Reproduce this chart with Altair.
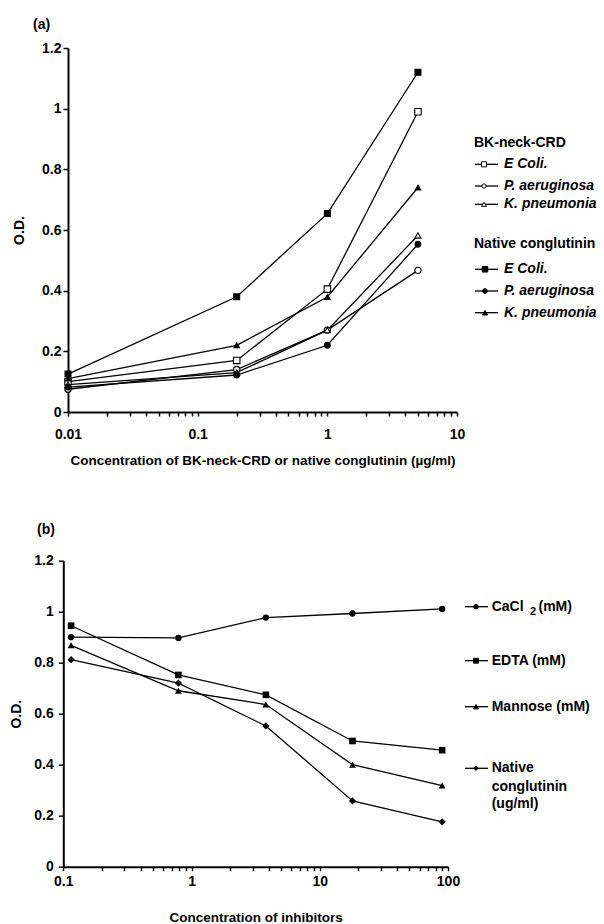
import altair as alt
import pandas as pd

FONT = "Liberation Sans"

# ---------------- panel (a) data ----------------
conc_a = [0.01, 0.2, 1, 5]
series_a = ["BK E Coli.", "BK P. aeruginosa", "BK K. pneumonia",
            "Native E Coli.", "Native P. aeruginosa", "Native K. pneumonia"]
od_bk_ecoli = [0.10, 0.17, 0.405, 0.99]
od_bk_paer = [0.075, 0.14, 0.27, 0.467]
od_bk_kpn = [0.09, 0.13, 0.27, 0.582]
od_nat_ecoli = [0.125, 0.38, 0.654, 1.12]
od_nat_paer = [0.082, 0.122, 0.22, 0.553]
od_nat_kpn = [0.11, 0.22, 0.379, 0.74]
decades_a = [0.01, 0.1, 1, 10]
yticks_a = [0, 0.2, 0.4, 0.6, 0.8, 1, 1.2]
legend_a_groups = ["BK-neck-CRD", "Native conglutinin"]
legend_a_labels = ["E Coli.", "P. aeruginosa", "K. pneumonia"]

# ---------------- panel (b) data ----------------
conc_b = [0.115, 0.79, 3.8, 18, 90]
series_b = ["CaCl2", "EDTA", "Mannose", "Native conglutinin"]
od_cacl2 = [0.90, 0.897, 0.977, 0.993, 1.011]
od_edta = [0.945, 0.752, 0.674, 0.493, 0.457]
od_mannose = [0.868, 0.69, 0.636, 0.40, 0.318]
od_native = [0.812, 0.72, 0.552, 0.258, 0.176]
decades_b = [0.1, 1, 10, 100]
yticks_b = [0, 0.1, 0.2, 0.3, 0.4, 0.5, 0.6, 0.7, 0.8, 0.9, 1, 1.1, 1.2]
ylabels_b = [0, 0.2, 0.4, 0.6, 0.8, 1, 1.2]

# ---------------- styles ----------------
shape_a = ["square", "circle", "triangle-up", "square", "circle", "triangle-up"]
fill_a = ["white", "white", "white", "black", "black", "black"]
size_a = [42, 30, 40, 48, 40, 46]
shape_b = ["circle", "square", "triangle-up", "diamond"]
size_b = [40, 52, 46, 34]

df_a = pd.DataFrame([
    {"conc": c, "od": v, "series": s}
    for s, vals in zip(series_a, [od_bk_ecoli, od_bk_paer, od_bk_kpn,
                                  od_nat_ecoli, od_nat_paer, od_nat_kpn])
    for c, v in zip(conc_a, vals)
])
df_b = pd.DataFrame([
    {"conc_b": c, "od_b": v, "inhibitor": s}
    for s, vals in zip(series_b, [od_cacl2, od_edta, od_mannose, od_native])
    for c, v in zip(conc_b, vals)
])


def log_ticks(decades):
    vals = set()
    for d in decades[:-1]:
        for m in range(1, 10):
            vals.add(round(m * d, 6))
    vals.add(decades[-1])
    return sorted(vals)


def label_expr(shown):
    arr = ",".join(str(v) for v in shown)
    return f"indexof([{arr}], datum.value) >= 0 ? format(datum.value, '~g') : ''"


def txt(label, x, y, size=14, italic=False, align="left"):
    return alt.Chart(alt.Data(values=[{"t": label}])).mark_text(
        align=align, baseline="middle", font=FONT, fontSize=size,
        fontWeight="bold", fontStyle="italic" if italic else "normal", color="black"
    ).encode(x=alt.value(x), y=alt.value(y), text="t:N")


def sym(x0, x1, xm, y, shape, fill, size):
    base = alt.Chart(alt.Data(values=[{"k": 1}]))
    rule = base.mark_rule(color="black", strokeWidth=1.3).encode(
        x=alt.value(x0), x2=alt.value(x1), y=alt.value(y))
    pt = base.mark_point(shape=shape, filled=True, fill=fill, stroke="black",
                         strokeWidth=1, size=size, opacity=1).encode(
        x=alt.value(xm), y=alt.value(y))
    return [rule, pt]


# ---------------- panel (a) ----------------
W_A, H_A = 389, 364
xa = alt.X("conc:Q", scale=alt.Scale(type="log", domain=[0.01, 10]),
           axis=alt.Axis(values=log_ticks(decades_a), labelExpr=label_expr(decades_a),
                         title="Concentration of BK-neck-CRD or native conglutinin (µg/ml)",
                         titleFontSize=13.5, titleY=48, titleBaseline="middle",
                         labelBaseline="middle", labelPadding=18, tickSize=4,
                         labelFlush=False, labelOverlap=False))
ya = alt.Y("od:Q", scale=alt.Scale(domain=[0, 1.2], nice=False),
           axis=alt.Axis(values=yticks_a, format="~g", title="O.D.",
                         titleX=-49, titleY=182, titleAngle=270, titleAlign="center",
                         titleBaseline="middle", tickSize=5, labelPadding=2))

lines_a = alt.Chart(df_a).mark_line(color="black", strokeWidth=1.3).encode(
    x=xa, y=ya, detail="series:N", order="conc:Q")
points_a = alt.Chart(df_a).mark_point(filled=True, opacity=1, stroke="black", strokeWidth=1.1).encode(
    x="conc:Q", y="od:Q",
    fill=alt.Fill("series:N", scale=alt.Scale(domain=series_a, range=fill_a), legend=None),
    shape=alt.Shape("series:N", scale=alt.Scale(domain=series_a, range=shape_a), legend=None),
    size=alt.Size("series:N", scale=alt.Scale(domain=series_a, range=size_a), legend=None))

anchor = alt.Chart(alt.Data(values=[{"k": 1}])).mark_rule(opacity=0, strokeOpacity=0).encode(
    x=alt.value(-68), x2=alt.value(-62), y=alt.value(-47.7))

layers_a = [lines_a, points_a, anchor, txt("(a)", -35, -23.5)]
# legend (a)
layers_a.append(txt(legend_a_groups[0], 406, 95))
for i, (lab, yy) in enumerate(zip(legend_a_labels, [116.3, 138, 156.3])):
    layers_a += sym(407, 430, 416, yy, shape_a[i], "white", [26, 18, 24][i])
    layers_a.append(txt(lab, 436, yy, italic=True))
layers_a.append(txt(legend_a_groups[1], 406, 195.7))
for i, (lab, yy) in enumerate(zip(legend_a_labels, [221.3, 243, 264.7])):
    layers_a += sym(407, 430, 417, yy, shape_a[i + 3], "black", [30, 22, 28][i])
    layers_a.append(txt(lab, 436, yy, italic=True))

panel_a = alt.layer(*layers_a).properties(width=W_A, height=H_A)

# ---------------- panel (b) ----------------
W_B, H_B = 380, 306
xb = alt.X("conc_b:Q", scale=alt.Scale(type="log", domain=[0.1, 100], range=[-4.7, 380]),
           axis=alt.Axis(values=log_ticks(decades_b), labelExpr=label_expr(decades_b),
                         title="Concentration of inhibitors",
                         titleFontSize=13.5, titleY=51, titleBaseline="middle",
                         labelBaseline="middle", labelPadding=11, tickSize=4,
                         labelFlush=False, labelOverlap=False))
yb = alt.Y("od_b:Q", scale=alt.Scale(domain=[0, 1.2], nice=False),
           axis=alt.Axis(values=yticks_b, labelExpr=label_expr(ylabels_b), title="O.D.",
                         offset=4.7, titleX=-47.3, titleY=153, titleAngle=270,
                         titleAlign="center", titleBaseline="middle", tickSize=5,
                         labelPadding=5, labelOverlap=False))

lines_b = alt.Chart(df_b).mark_line(color="black", strokeWidth=1.3).encode(
    x=xb, y=yb, detail="inhibitor:N", order="conc_b:Q")
points_b = alt.Chart(df_b).mark_point(filled=True, opacity=1, color="black").encode(
    x="conc_b:Q", y="od_b:Q",
    shape=alt.Shape("inhibitor:N", scale=alt.Scale(domain=series_b, range=shape_b), legend=None),
    size=alt.Size("inhibitor:N", scale=alt.Scale(domain=series_b, range=size_b), legend=None))

layers_b = [lines_b, points_b, txt("(b)", -31, -30.7)]
leg_y_b = [46, 100, 146, 207.6]
for i, yy in enumerate(leg_y_b):
    layers_b += sym(397, 420, 408, yy, shape_b[i], "black", [20, 24, 24, 18][i])
layers_b.append(txt("CaCl", 423.7, leg_y_b[0]))
layers_b.append(txt("2", 462, leg_y_b[0] + 5, size=11))
layers_b.append(txt("(mM)", 470.5, leg_y_b[0]))
layers_b.append(txt("EDTA (mM)", 423.7, leg_y_b[1]))
layers_b.append(txt("Mannose (mM)", 423.7, leg_y_b[2]))
layers_b.append(txt("Native", 423.7, leg_y_b[3]))
layers_b.append(txt("conglutinin", 423.7, leg_y_b[3] + 18.4))
layers_b.append(txt("(ug/ml)", 423.7, leg_y_b[3] + 35.7))

panel_b = alt.layer(*layers_b).properties(width=W_B, height=H_B)

chart = alt.vconcat(panel_a, panel_b, spacing=148.7, bounds="flush").resolve_scale(
    shape="independent", size="independent", fill="independent"
).properties(
    padding=0, background="white"
).configure_view(stroke=None).configure_axis(
    domainColor="black", domainWidth=2, tickColor="black", tickWidth=1.5,
    labelColor="black", titleColor="black", labelFont=FONT, titleFont=FONT,
    labelFontSize=14, labelFontWeight="bold", titleFontSize=14, titleFontWeight="bold",
    grid=False
)

chart.save("out.html", embed_options={"renderer": "svg", "actions": False})
